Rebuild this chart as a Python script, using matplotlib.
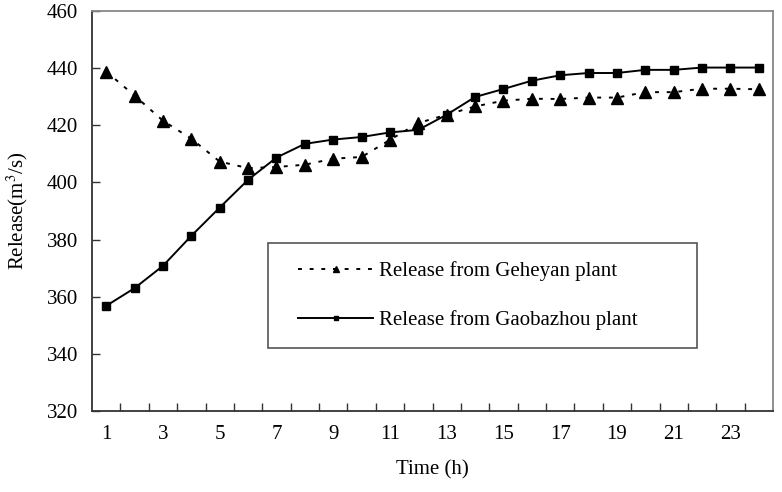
import matplotlib
matplotlib.use("Agg")
import matplotlib.pyplot as plt
from matplotlib.patches import Rectangle
import numpy as np

# hourly release (m3/s), hours 1..24
hours = list(range(1, 25))
geheyan = [438.8, 430.4, 421.6, 415.3, 407.3, 405.0, 405.4, 406.2, 408.3, 408.9,
           414.9, 420.8, 423.7, 426.6, 428.6, 429.3, 429.2, 429.7, 429.7, 431.6,
           431.6, 432.8, 432.8, 432.6]
gaobazhou = [356.8, 363.0, 370.8, 381.3, 391.2, 400.9, 408.7, 413.5, 415.0, 415.9,
             417.5, 418.4, 423.7, 429.9, 432.7, 435.6, 437.5, 438.3, 438.3, 439.4,
             439.4, 440.2, 440.2, 440.2]
xtick_labels = [str(h) for h in range(1, 24, 2)]

plt.rcParams["font.family"] = ["Liberation Serif", "DejaVu Serif"]
plt.rcParams["mathtext.fontset"] = "stix"

fig = plt.figure(figsize=(7.82, 4.92), dpi=100)
ax = fig.add_axes([92 / 782, 1 - 411 / 492, (773 - 92) / 782, (411 - 11) / 492])

ax.plot(hours, geheyan, color="black", linestyle=(0, (2, 4)), linewidth=1.4,
        marker="^", markersize=8, label="Release from Geheyan plant")
ax.plot(hours, gaobazhou, color="black", linestyle="-", linewidth=1.4,
        marker="s", markersize=6.3, label="Release from Gaobazhou plant")

ax.set_xlim(0.5, 24.5)
ax.set_ylim(320, 460)
ax.set_yticks(np.arange(320, 461, 20))
ax.set_xticks(range(1, 24, 2))
ax.set_xticklabels(xtick_labels)
ax.set_xticks(np.arange(1.5, 24, 1), minor=True)
ax.tick_params(axis="x", which="major", length=0, labelsize=15, pad=10)
ax.tick_params(axis="x", which="minor", direction="in", length=6, width=1, color="#333333")
ax.tick_params(axis="y", direction="in", length=6, width=1, color="#333333",
               labelsize=15, pad=10)

for side in ("left", "bottom"):
    ax.spines[side].set_color("#333333")
    ax.spines[side].set_linewidth(1.3)
for side in ("top", "right"):
    ax.spines[side].set_color("#888888")
    ax.spines[side].set_linewidth(1.3)

ax.set_xlabel("Time (h)", fontsize=15, labelpad=12)
ax.set_ylabel("Release(m$^3$/s)", fontsize=15, labelpad=12)

# legend entries without frame, box drawn separately so it can be wider
leg = ax.legend(loc="upper left", bbox_to_anchor=(0.3025, 0.374), fontsize=15,
                frameon=False, markerscale=0.55, handlelength=3.6,
                handletextpad=0.3, borderpad=0, labelspacing=1.4, borderaxespad=0)
box = Rectangle((0.2584, 0.1575), 0.63, 0.2625, transform=ax.transAxes,
                facecolor="white", edgecolor="#555555", linewidth=1.2, zorder=4)
ax.add_patch(box)
leg.set_zorder(5)

fig.savefig("out.png", dpi=100)
